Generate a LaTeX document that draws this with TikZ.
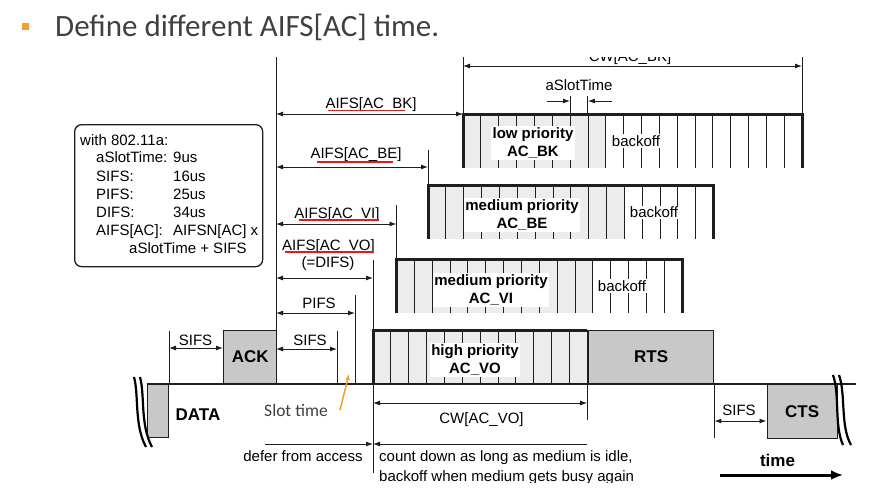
\documentclass[tikz,border=0pt]{standalone}
\usepackage{fontspec}
\setmainfont{Liberation Sans}
\newfontfamily\slidefont{Carlito}
\usetikzlibrary{arrows.meta, calc}

\definecolor{ink}{RGB}{30,30,30}
\definecolor{slotgrey}{RGB}{236,236,236}
\definecolor{pktgrey}{RGB}{200,200,200}
\definecolor{slideorange}{RGB}{242,160,40}
\definecolor{slidegrey}{RGB}{64,64,64}
\definecolor{spellred}{RGB}{226,26,26}

\tikzset{
  timeline/.style={draw=ink, line width=0.9pt},
  dim/.style={timeline, {Latex[length=7pt,width=5pt]}-{Latex[length=7pt,width=5pt]}},
  dimr/.style={timeline, -{Latex[length=7pt,width=5pt]}},
  diml/.style={timeline, {Latex[length=7pt,width=5pt]}-},
  blockedge/.style={draw=ink, line width=3pt},
  mediumline/.style={draw=ink, line width=2pt},
  pktbox/.style={draw=ink, fill=pktgrey, line width=1.4pt, inner sep=0pt,
    font=\bfseries\fontsize{17}{20}\selectfont},
  prio/.style={fill=white, inner sep=1.5pt, align=center,
    font=\bfseries\fontsize{15}{18}\selectfont},
  backoff/.style={fill=white, inner sep=1pt},
  lbl/.style={inner sep=0pt, anchor=base},
  spell/.style={draw=spellred, line width=1.6pt},
  breakmark/.style={draw=black, line width=2.2pt},
  infobox/.style={draw=ink, rounded corners=7pt, line width=1.3pt},
}

\begin{document}
\begin{tikzpicture}[x=1pt, y=-1pt, font=\fontsize{15}{18}\selectfont]
\useasboundingbox (0,0) rectangle (878,498);

% slide title
\node[fill=slideorange, minimum size=7pt, inner sep=0pt] (bullet) at (25,26.5) {};
\node[anchor=base west, inner sep=0pt, text=slidegrey, font=\slidefont\fontsize{31}{36}\selectfont]
  (title) at (55,36) {Define different AIFS[AC] time.};

% time marks on the medium
\coordinate (tData) at (169,384); \coordinate (tAck) at (276,384);
\coordinate (tSifs) at (337,384); \coordinate (tPifs) at (355,384);
\coordinate (tDifs) at (373,384); \coordinate (tVi) at (396.5,384);
\coordinate (tBe) at (428,384); \coordinate (tBk) at (463,384);
\coordinate (tBkEnd) at (802,384); \coordinate (tCw) at (587.2,384);
\coordinate (lineEnd) at (856,384);

% contention windows: x / top / slots / grey slots / right edge
\foreach \x/\y/\ns/\g/\r in {463/114/19/8/54, 428/185/16/11/54, 396.5/259/16/11/54, 373/330/12/12/0}{
  \fill[slotgrey] (\x,\y) rectangle ++(\g*17.85,54);
  \foreach \i in {1,...,\ns} \draw[timeline] (\x+\i*17.85,\y) -- ++(0,54);
  \draw[blockedge] (\x,\y+54) -- (\x,\y) -- ++(\ns*17.85,0) -- ++(0,\r);
}
\coordinate (slotA) at (570,101); \coordinate (slotB) at (587.9,101);
\draw[timeline] (slotA |- 0,96) -- (slotA |- 0,114);
\draw[timeline] (slotB |- 0,96) -- (slotB |- 0,114);

\node[prio] (bkText) at (533,143) {low priority\\AC\_BK};
\node[backoff] (bkOff) at (636,141) {backoff};
\node[prio] (beText) at (522,215) {medium priority\\AC\_BE};
\node[backoff] (beOff) at (654,212.5) {backoff};
\node[prio] (viText) at (491,290) {medium priority\\AC\_VI};
\node[backoff] (viOff) at (622,286) {backoff};
\node[prio] (voText) at (475,360) {high priority\\AC\_VO};

% vertical marks
\draw[timeline] (tData |- 0,331) -- (tData);
\draw[timeline] (tAck |- 0,57) -- (tAck);
\draw[timeline] (tSifs |- 0,331) -- (tSifs);
\draw[timeline] (tPifs |- 0,295) -- (tPifs);
\draw[timeline] (tDifs |- 0,260) -- (tDifs |- 0,473);
\draw[timeline] (tVi |- 0,205) -- (tVi |- 0,259);
\draw[timeline] (tBe |- 0,150) -- (tBe |- 0,185);
\draw[timeline] (tBk |- 0,57) -- (tBk |- 0,114);
\draw[timeline] (tBkEnd |- 0,57) -- (tBkEnd |- 0,114);
\draw[timeline] (tCw) -- (tCw |- 0,420);

% frames
\node[pktbox, minimum width=21pt, minimum height=53pt, anchor=north east] (data) at (tData) {};
\node[pktbox, minimum width=53pt, minimum height=53pt, anchor=south west] (ack) at (223,384) {ACK};
\node[pktbox, minimum width=125pt, minimum height=53pt, anchor=south west] (rts) at (588,384) {RTS};
\node[pktbox, minimum width=70pt, minimum height=54pt, anchor=north west] (cts) at (766.5,384) {CTS};
\draw[timeline] (rts.south east) -- (rts.east |- 0,438);
\draw[mediumline] (data.north west) -- (lineEnd);
\node[lbl, font=\bfseries\fontsize{17}{20}\selectfont] (dataText) at (198,420) {DATA};

% info box
\node[infobox, minimum width=188pt, minimum height=142pt, anchor=north west] (info) at (74,124) {};
\node[lbl, anchor=base west] (info0) at (80,145) {with 802.11a:};
\foreach \y/\k/\v [count=\i] in {162.7/aSlotTime:/9us, 181.5/SIFS:/16us, 199.3/PIFS:/25us,
    217.3/DIFS:/34us, 235.5/{AIFS[AC]:}/{AIFSN[AC] x}}
  \node[lbl, anchor=base west] (info\i) at (96,\y) {\makebox[77pt][l]{\k}\v};
\node[lbl, anchor=base west] (info6) at (129,253.3) {aSlotTime + SIFS};

% AIFS labels and spans
\node[lbl] (aifsBk) at (371,108) {AIFS[AC\_BK]};
\node[lbl] (aifsBe) at (356,158.5) {AIFS[AC\_BE]};
\node[lbl] (aifsVi) at (337,218.3) {AIFS[AC\_VI]};
\node[lbl] (aifsVo) at (328.5,250.7) {AIFS[AC\_VO]};
\node[lbl] (difsText) at (328,267) {(=DIFS)};
\node[lbl] (pifsText) at (319,308) {PIFS};
\node[lbl] (sifsAck) at (310,345) {SIFS};
\node[lbl] (sifsData) at (195.5,345) {SIFS};
\draw[spell] ([shift={(3pt,-2.5pt)}]aifsBk.base west) -- ([shift={(-12pt,-2.5pt)}]aifsBk.base east);
\draw[spell] ([shift={(7pt,-3.5pt)}]aifsBe.base west) -- ([shift={(-9pt,-3.5pt)}]aifsBe.base east);
\draw[spell] ([shift={(5pt,-1.5pt)}]aifsVi.base west) -- ([shift={(-1pt,-1.5pt)}]aifsVi.base east);
\draw[spell] ([shift={(3pt,-1.5pt)}]aifsVo.base west) -- ([shift={(-2pt,-1.5pt)}]aifsVo.base east);

\draw[dim] (tData |- 0,348) -- (ack.west |- 0,348);
\draw[dim] (tAck |- 0,349) -- (tSifs |- 0,349);
\draw[dim] (tAck |- 0,313) -- (tPifs |- 0,313);
\draw[dim] (tAck |- 0,278) -- (tDifs |- 0,278);
\draw[dim] (tAck |- 0,224) -- (tVi |- 0,224);
\draw[dim] (tAck |- 0,167) -- (tBe |- 0,167);
\draw[dim] (tAck |- 0,114) -- (tBk |- 0,114);
\draw[dim] (tBk |- 0,66) -- (tBkEnd |- 0,66);
\begin{scope}
  \clip (440,57) rectangle (830,75);
  \node[lbl] (cwBkText) at (630,61.5) {CW[AC\_BK]};
\end{scope}

% slot time
\node[lbl] (slotText) at (579,90) {aSlotTime};
\draw[dimr] ($(slotA)+(-23,0)$) -- (slotA);
\draw[dimr] ($(slotB)+(24,0)$) -- (slotB);

% below the medium
\node[lbl] (cwVoText) at (481.5,423) {CW[AC\_VO]};
\draw[dim] (tDifs |- 0,403) -- (tCw |- 0,403);
\node[lbl] (sifsRts) at (739,415.7) {SIFS};
\draw[dim] (rts.east |- 0,421) -- (cts.west |- 0,421);
\coordinate (deferStart) at (265,444);
\draw[dimr] (deferStart) -- (tDifs |- 0,444);
\draw[diml] (tDifs |- 0,444) -- (tCw |- 0,444);
\node[lbl] (deferText) at (303,461.5) {defer from access};
\begin{scope}
  \clip (370,440) rectangle (700,482);
  \node[lbl, anchor=base west] (countText) at (379,461.5) {count down as long as medium is idle,};
  \node[lbl, anchor=base west] (countText2) at (379,481) {backoff when medium gets busy again};
\end{scope}

% annotation
\node[lbl, text=slidegrey, font=\slidefont\fontsize{17.5}{20}\selectfont] (slotNote) at (296,416) {Slot time};
\coordinate (noteTail) at (340,410); \coordinate (noteTip) at (349,374);
\draw[slideorange, line width=1.5pt, -{Latex[length=6pt,width=5pt]}] (noteTail) -- (noteTip);

% time axis
\node[lbl, font=\bfseries\fontsize{17}{20}\selectfont] (timeText) at (777.5,466.7) {time};
\coordinate (timeStart) at (720,475); \coordinate (timeEnd) at (843,475);
\draw[draw=black, line width=3pt, -{Latex[length=12pt,width=10pt]}] (timeStart) -- (timeEnd);

% breaks
\draw[breakmark] (134,377) .. controls (139,395) and (134,425) .. (146,447);
\draw[breakmark] (140,377) .. controls (145,395) and (140,425) .. (152,447);
\draw[breakmark] (833,375) .. controls (840,395) and (834,425) .. (843,445);
\draw[breakmark] (839,375) .. controls (846,395) and (840,425) .. (851,445);
\end{tikzpicture}
\end{document}
